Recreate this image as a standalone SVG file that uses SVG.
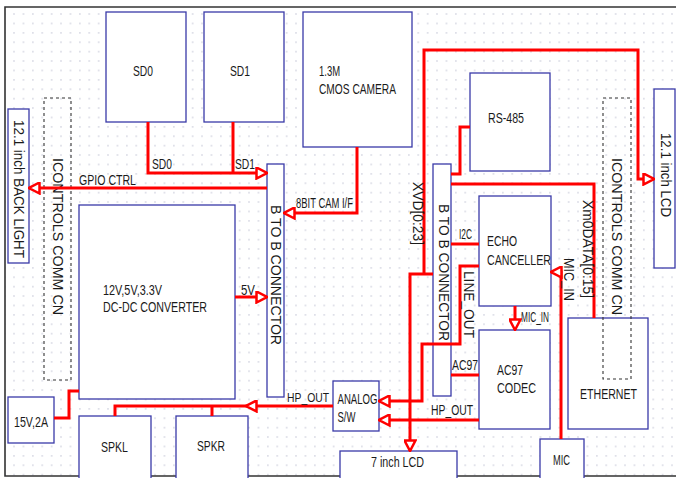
<svg xmlns="http://www.w3.org/2000/svg" width="676" height="478" viewBox="0 0 676 478">
<defs>
<pattern id="dots" x="0" y="0" width="9.4" height="9.4" patternUnits="userSpaceOnUse">
<rect x="4" y="4" width="1.3" height="1.3" fill="#c2c4d4"/>
</pattern>
<marker id="arr" viewBox="0 0 13 13" markerWidth="13" markerHeight="13" markerUnits="userSpaceOnUse" refX="12" refY="6.5" orient="auto">
<path d="M1.5,1 L12,6.5 L1.5,12 Z" fill="#fff" stroke="#ff0000" stroke-width="2.5" stroke-linejoin="miter"/>
</marker>
<style>
.n{fill:#fff;stroke:#3a3aa8;stroke-width:1.3}
.d{fill:none;stroke:#333;stroke-width:1.1;stroke-dasharray:3,3}
.t{font-family:"Liberation Sans",Arial,sans-serif;font-size:14px;fill:#1a1a1a}
.w{fill:none;stroke:#ff0000;stroke-width:3;stroke-linejoin:miter}
.a{marker-end:url(#arr)}
</style>
</defs>
<rect x="0" y="0" width="676" height="478" fill="#fff"/>
<rect x="5" y="7" width="671" height="469" fill="url(#dots)"/>
<path d="M676,7 H5 V476 H676" fill="none" stroke="#333" stroke-width="1.6"/>

<g id="sd0"><rect class="n" x="106" y="12" width="80" height="110"/><text class="t" x="133" y="76" textLength="20" lengthAdjust="spacingAndGlyphs">SD0</text></g>
<g id="sd1"><rect class="n" x="204" y="12" width="80" height="110"/><text class="t" x="230" y="76" textLength="20" lengthAdjust="spacingAndGlyphs">SD1</text></g>
<g id="camera"><rect class="n" x="303" y="12" width="109" height="135"/><text class="t" x="319" y="76" textLength="21" lengthAdjust="spacingAndGlyphs">1.3M</text><text class="t" x="319" y="94" textLength="77" lengthAdjust="spacingAndGlyphs">CMOS CAMERA</text></g>
<g id="backlight"><rect class="n" x="8" y="109" width="21" height="154"/><text class="t" transform="translate(13.5,120) rotate(90)" textLength="138" lengthAdjust="spacingAndGlyphs">12.1 inch BACK LIGHT</text></g>
<g id="icontrols-left"><rect class="d" x="44" y="98" width="27" height="282"/><text class="t" transform="translate(53,158) rotate(90)" textLength="157" lengthAdjust="spacingAndGlyphs">ICONTROLS  COMM  CN</text></g>
<g id="dcdc"><rect class="n" x="79" y="205" width="156" height="194"/><text class="t" x="103" y="295" textLength="59" lengthAdjust="spacingAndGlyphs">12V,5V,3.3V</text><text class="t" x="103" y="312" textLength="104" lengthAdjust="spacingAndGlyphs">DC-DC CONVERTER</text></g>
<g id="power"><rect class="n" x="8" y="397" width="46" height="46"/><text class="t" x="14" y="427" textLength="34" lengthAdjust="spacingAndGlyphs">15V,2A</text></g>
<g id="spkl"><rect class="n" x="79" y="416" width="72" height="70"/><text class="t" x="101" y="452" textLength="27" lengthAdjust="spacingAndGlyphs">SPKL</text></g>
<g id="spkr"><rect class="n" x="176" y="416" width="72" height="70"/><text class="t" x="197" y="451" textLength="28" lengthAdjust="spacingAndGlyphs">SPKR</text></g>
<g id="btob-left"><rect class="n" x="267" y="164" width="17" height="233"/><text class="t" transform="translate(270.5,205) rotate(90)" textLength="140" lengthAdjust="spacingAndGlyphs">B TO B CONNECTOR</text></g>
<g id="analog"><rect class="n" x="333" y="381" width="46" height="50"/><text class="t" x="337.5" y="404" textLength="40" lengthAdjust="spacingAndGlyphs">ANALOG</text><text class="t" x="337.5" y="422" textLength="18" lengthAdjust="spacingAndGlyphs">S/W</text></g>
<g id="lcd7"><rect class="n" x="340" y="451" width="117" height="40"/><text class="t" x="371" y="467" textLength="53" lengthAdjust="spacingAndGlyphs">7 inch LCD</text></g>
<g id="btob-right"><rect class="n" x="433" y="164" width="18" height="232"/><text class="t" transform="translate(439,204) rotate(90)" textLength="137" lengthAdjust="spacingAndGlyphs">B TO B CONNECTOR</text></g>
<g id="rs485"><rect class="n" x="470" y="73" width="80" height="98"/><text class="t" x="488" y="123" textLength="36" lengthAdjust="spacingAndGlyphs">RS-485</text></g>
<g id="echo"><rect class="n" x="479" y="196" width="72" height="110"/><text class="t" x="487" y="246" textLength="30" lengthAdjust="spacingAndGlyphs">ECHO</text><text class="t" x="487" y="265" textLength="64" lengthAdjust="spacingAndGlyphs">CANCELLER</text></g>
<g id="codec"><rect class="n" x="479" y="330" width="71" height="99"/><text class="t" x="497" y="375" textLength="26" lengthAdjust="spacingAndGlyphs">AC97</text><text class="t" x="497" y="393" textLength="39" lengthAdjust="spacingAndGlyphs">CODEC</text></g>
<g id="ethernet"><rect class="n" x="568" y="318" width="80" height="111"/><text class="t" x="580" y="399" textLength="57" lengthAdjust="spacingAndGlyphs">ETHERNET</text></g>
<g id="icontrols-right"><rect class="d" x="603" y="98" width="28" height="281"/><text class="t" transform="translate(612,158) rotate(90)" textLength="157" lengthAdjust="spacingAndGlyphs">ICONTROLS  COMM  CN</text></g>
<g id="mic"><rect class="n" x="540" y="439" width="44" height="50"/><text class="t" x="553" y="465" textLength="17" lengthAdjust="spacingAndGlyphs">MIC</text></g>
<g id="lcd12"><rect class="n" x="654" y="89" width="21" height="179"/><text class="t" transform="translate(660.5,133) rotate(90)" textLength="84" lengthAdjust="spacingAndGlyphs">12.1 inch LCD</text></g>

<g id="connectors">
<path class="w a" d="M148,122 V173 H267"/>
<path class="w" d="M233,122 V173"/>
<path class="w a" d="M267,188 H29"/>
<path class="w a" d="M357,147 V213 H284"/>
<path class="w a" d="M235,297 H267"/>
<path class="w" d="M54,418 H69 V391 H79"/>
<path class="w a" d="M333,406 H246"/>
<path class="w" d="M246,406 H115 V416"/>
<path class="w" d="M212,406 V416"/>
<path class="w a" d="M433,274 H410 V451"/>
<path class="w a" d="M424,274 V50 H638 V179 H654"/>
<path class="w" d="M451,174 H460 V127 H470"/>
<path class="w" d="M451,184 H594 V318"/>
<path class="w" d="M451,244 H479"/>
<path class="w a" d="M479,266 H460 V344 H422 V401 H379"/>
<path class="w" d="M451,375 H479"/>
<path class="w a" d="M479,420 H379"/>
<path class="w a" d="M515,306 V330"/>
<path class="w a" d="M561,439 V272 H551"/>
<text class="t" x="152" y="169" textLength="20" lengthAdjust="spacingAndGlyphs">SD0</text>
<text class="t" x="235" y="169" textLength="20" lengthAdjust="spacingAndGlyphs">SD1</text>
<text class="t" x="79" y="185" textLength="57" lengthAdjust="spacingAndGlyphs">GPIO CTRL</text>
<text class="t" x="296" y="208" textLength="57" lengthAdjust="spacingAndGlyphs">8BIT CAM I/F</text>
<text class="t" x="241" y="295" textLength="14" lengthAdjust="spacingAndGlyphs">5V</text>
<text class="t" x="287" y="402" textLength="42" lengthAdjust="spacingAndGlyphs" style="font-size:12.5px">HP_OUT</text>
<text class="t" transform="translate(412.5,182) rotate(90)" textLength="63" lengthAdjust="spacingAndGlyphs">XVD[0:23]</text>
<text class="t" x="459" y="239" textLength="13" lengthAdjust="spacingAndGlyphs">I2C</text>
<text class="t" transform="translate(464,271) rotate(90)" textLength="67" lengthAdjust="spacingAndGlyphs">LINE_OUT</text>
<text class="t" x="452" y="370" textLength="26" lengthAdjust="spacingAndGlyphs">AC97</text>
<text class="t" x="431" y="415" textLength="42" lengthAdjust="spacingAndGlyphs">HP_OUT</text>
<text class="t" x="521" y="322" textLength="28" lengthAdjust="spacingAndGlyphs">MIC_IN</text>
<text class="t" transform="translate(564,258) rotate(90)" textLength="43" lengthAdjust="spacingAndGlyphs">MIC_IN</text>
<text class="t" transform="translate(583,200) rotate(90)" textLength="98" lengthAdjust="spacingAndGlyphs">Xm0DATA[0:15]</text>
</g>
</svg>
